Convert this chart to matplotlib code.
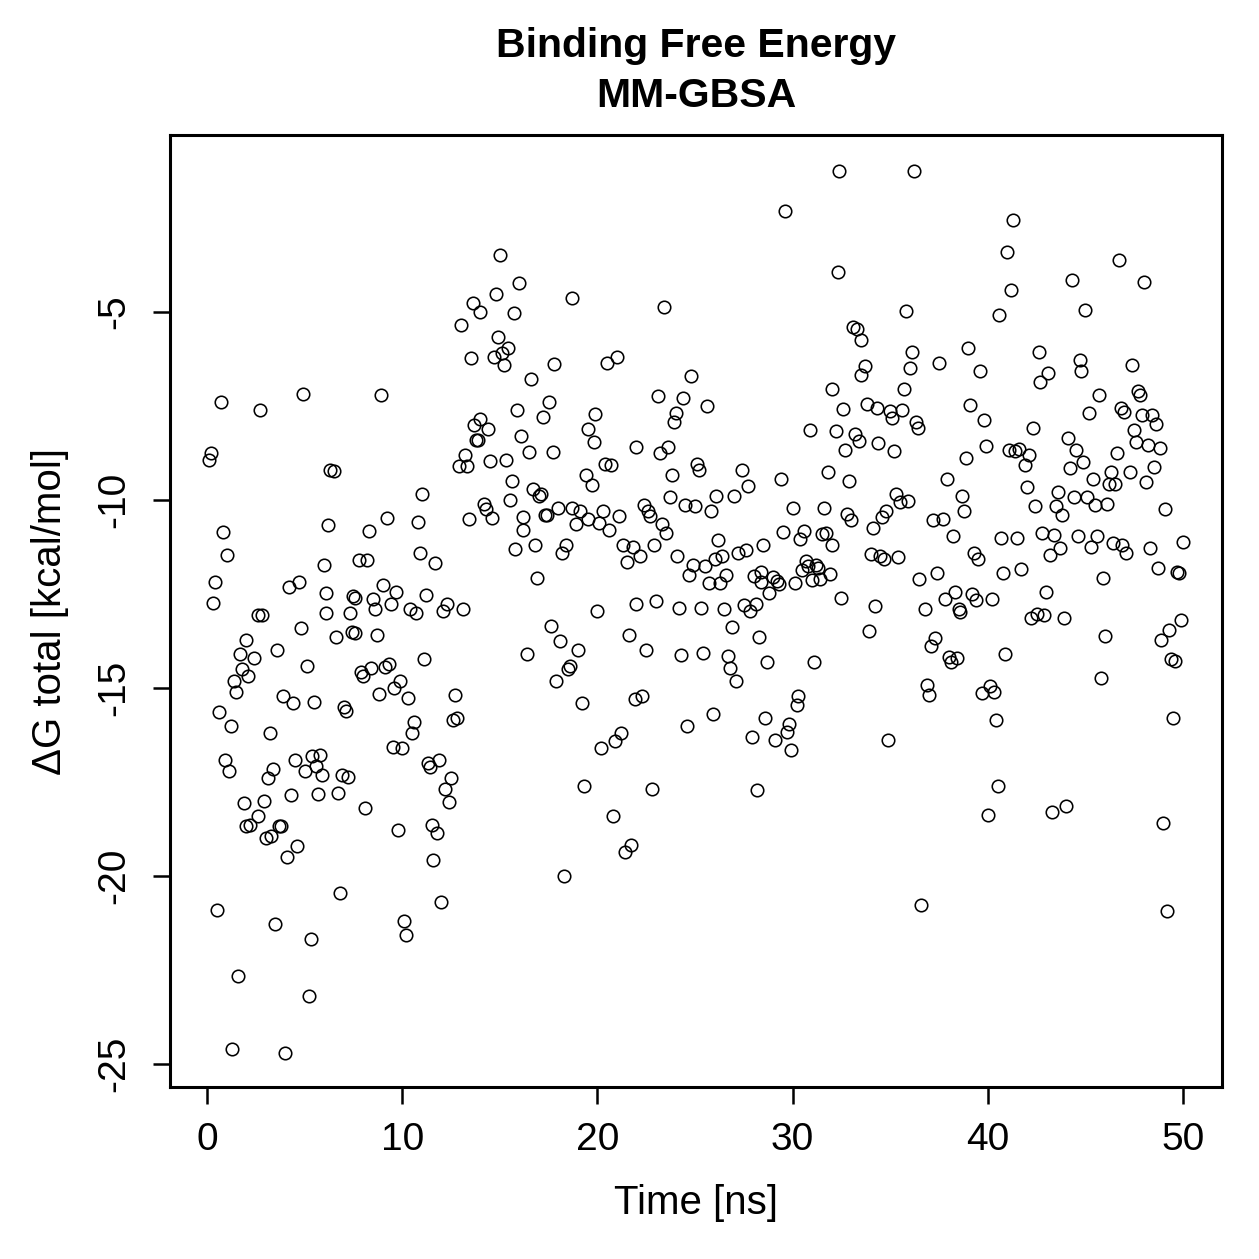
import matplotlib
matplotlib.use("Agg")
import matplotlib.pyplot as plt

plt.rcParams['font.family'] = ['Liberation Sans', 'DejaVu Sans']

title_lines = ["Binding Free Energy", "MM-GBSA"]
x_label = "Time [ns]"
y_label = "\u0394G total [kcal/mol]"
x_ticks = [0, 10, 20, 30, 40, 50]
y_ticks = [-25, -20, -15, -10, -5]

time_ns = [
 0.1,0.2,0.3,0.4,0.5,0.6,0.7,0.8,0.9,1.0,1.1,1.2,1.3,1.4,1.5,1.6,1.7,1.8,1.9,2.0,
 2.0,2.1,2.2,2.4,2.6,2.6,2.7,2.8,2.9,3.0,3.1,3.2,3.3,3.4,3.5,3.6,3.7,3.8,3.9,4.0,
 4.1,4.2,4.3,4.4,4.5,4.6,4.7,4.8,4.9,5.0,5.1,5.2,5.3,5.4,5.5,5.6,5.7,5.8,5.9,6.0,
 6.1,6.1,6.2,6.3,6.5,6.6,6.7,6.8,6.9,7.0,7.1,7.2,7.3,7.4,7.5,7.6,7.6,7.8,7.9,8.0,
 8.1,8.2,8.3,8.4,8.5,8.6,8.7,8.8,8.9,9.0,9.1,9.2,9.3,9.4,9.5,9.6,9.7,9.8,9.9,10.0,
 10.1,10.2,10.3,10.4,10.5,10.6,10.7,10.8,10.9,11.0,11.1,11.2,11.3,11.4,11.5,11.6,11.7,11.8,11.9,12.0,
 12.1,12.2,12.3,12.4,12.5,12.6,12.7,12.8,12.9,13.0,13.1,13.2,13.3,13.4,13.5,13.6,13.7,13.8,13.9,14.0,
 14.0,14.2,14.3,14.4,14.5,14.6,14.7,14.8,14.9,15.0,15.1,15.2,15.3,15.4,15.5,15.6,15.7,15.8,15.9,16.0,
 16.1,16.2,16.2,16.4,16.5,16.6,16.7,16.8,16.9,17.0,17.1,17.2,17.3,17.4,17.5,17.6,17.7,17.8,17.9,18.0,
 18.1,18.2,18.3,18.4,18.5,18.6,18.7,18.7,18.9,19.0,19.1,19.2,19.3,19.4,19.5,19.5,19.7,19.8,19.9,20.0,
 20.1,20.2,20.3,20.4,20.5,20.6,20.7,20.8,20.9,21.0,21.1,21.2,21.3,21.4,21.5,21.6,21.7,21.8,21.9,22.0,
 22.0,22.2,22.3,22.4,22.5,22.6,22.7,22.8,22.9,23.0,23.1,23.2,23.3,23.4,23.5,23.6,23.7,23.8,23.9,24.0,
 24.1,24.2,24.3,24.4,24.5,24.6,24.7,24.8,24.9,25.0,25.1,25.2,25.3,25.4,25.5,25.6,25.7,25.8,25.9,26.0,
 26.1,26.2,26.3,26.4,26.5,26.6,26.7,26.8,26.9,27.0,27.1,27.2,27.4,27.5,27.6,27.7,27.8,27.9,28.0,28.1,
 28.2,28.3,28.4,28.4,28.5,28.6,28.7,28.8,29.0,29.1,29.2,29.3,29.4,29.5,29.6,29.7,29.8,29.9,30.0,30.1,
 30.2,30.3,30.4,30.5,30.6,30.7,30.8,30.9,31.0,31.1,31.2,31.3,31.4,31.5,31.6,31.7,31.8,31.9,32.0,32.0,
 32.2,32.3,32.4,32.5,32.6,32.7,32.8,32.9,33.0,33.1,33.2,33.3,33.4,33.5,33.5,33.7,33.8,33.9,34.0,34.1,
 34.2,34.3,34.4,34.5,34.6,34.7,34.8,34.9,35.0,35.1,35.2,35.3,35.4,35.5,35.6,35.7,35.8,35.9,36.0,36.1,
 36.2,36.3,36.4,36.5,36.6,36.8,36.9,37.0,37.1,37.2,37.3,37.4,37.5,37.7,37.8,37.9,38.0,38.1,38.2,38.3,
 38.4,38.5,38.6,38.7,38.8,38.9,39.0,39.1,39.2,39.3,39.4,39.5,39.6,39.7,39.8,39.9,40.0,40.1,40.2,40.3,
 40.4,40.5,40.6,40.7,40.8,40.9,41.0,41.1,41.2,41.3,41.4,41.5,41.6,41.7,41.9,42.0,42.1,42.2,42.3,42.4,
 42.5,42.6,42.7,42.8,42.9,43.0,43.1,43.2,43.3,43.4,43.5,43.6,43.7,43.8,43.9,44.0,44.1,44.2,44.3,44.4,
 44.5,44.6,44.7,44.8,44.9,45.0,45.1,45.2,45.3,45.4,45.5,45.6,45.7,45.8,45.9,46.0,46.1,46.2,46.3,46.4,
 46.5,46.6,46.7,46.8,46.9,47.0,47.1,47.3,47.4,47.5,47.6,47.7,47.8,47.9,48.0,48.1,48.2,48.3,48.4,48.5,
 48.6,48.7,48.8,48.9,49.0,49.1,49.2,49.3,49.4,49.5,49.6,49.7,49.8,49.9,50.0,
]

delta_g = [
 -8.94,-8.75,-12.74,-12.18,-20.9,-15.64,-7.39,-10.85,-16.9,-11.46,-17.2,-16.0,-24.6,-14.8,-15.1,-22.66,-14.1,-14.5,-18.06,-18.67,
 -13.72,-14.68,-18.64,-14.2,-13.06,-18.4,-7.6,-13.06,-18.0,-19.0,-17.4,-16.2,-18.94,-17.15,-21.28,-14.0,-18.67,-18.67,-15.2,-24.7,
 -19.5,-12.3,-17.85,-15.4,-16.9,-19.2,-12.18,-13.4,-7.18,-17.2,-14.4,-23.2,-21.68,-16.8,-15.37,-17.07,-17.82,-16.78,-17.3,-11.73,
 -13.0,-12.47,-10.66,-9.2,-9.23,-13.64,-17.8,-20.45,-17.3,-15.5,-15.6,-17.37,-13.0,-13.5,-12.55,-13.54,-12.6,-11.6,-14.57,-14.68,
 -18.2,-11.6,-10.82,-14.47,-12.63,-12.9,-13.6,-15.16,-7.2,-12.26,-14.44,-10.48,-14.36,-12.77,-16.57,-15.0,-12.45,-18.78,-14.8,-16.6,
 -21.2,-21.57,-15.27,-12.9,-16.2,-15.9,-13.0,-10.58,-11.4,-9.84,-14.23,-12.53,-17.0,-17.1,-18.64,-19.57,-11.68,-18.86,-16.9,-20.7,
 -12.95,-17.69,-12.77,-18.03,-17.4,-15.85,-15.19,-15.8,-9.1,-5.35,-12.9,-8.8,-9.1,-10.5,-6.22,-4.76,-8.0,-8.4,-8.4,-5.0,
 -7.85,-10.1,-10.24,-8.1,-8.96,-10.48,-6.2,-4.52,-5.66,-3.48,-6.1,-6.41,-8.94,-5.96,-10.0,-9.5,-5.03,-11.3,-7.6,-4.23,
 -8.3,-10.8,-10.45,-14.1,-8.72,-6.78,-9.7,-11.2,-12.07,-9.9,-9.84,-7.8,-10.4,-10.4,-7.4,-13.35,-8.72,-6.38,-14.8,-10.2,
 -13.75,-11.4,-20.0,-11.2,-14.5,-14.4,-4.63,-10.2,-10.64,-14.0,-10.3,-15.4,-17.6,-9.34,-10.5,-8.1,-9.6,-8.45,-7.7,-12.95,
 -10.6,-16.6,-10.3,-9.04,-6.36,-10.8,-9.07,-18.4,-16.4,-6.2,-10.42,-16.2,-11.2,-19.36,-11.65,-13.6,-19.17,-11.25,-15.3,-12.77,
 -8.6,-11.5,-15.2,-10.13,-14.0,-10.3,-10.42,-17.69,-11.2,-12.69,-7.23,-8.75,-10.64,-4.87,-10.88,-8.6,-9.92,-9.34,-7.93,-7.69,
 -11.5,-12.87,-14.12,-7.29,-10.13,-16.0,-11.99,-6.7,-11.73,-10.16,-9.04,-9.2,-12.87,-14.07,-11.76,-7.5,-12.2,-10.3,-15.7,-11.57,
 -9.9,-11.06,-12.2,-11.5,-12.9,-11.99,-14.15,-14.47,-13.38,-9.9,-14.8,-11.4,-9.2,-12.8,-11.33,-9.63,-12.95,-16.3,-12.02,-12.77,
 -17.7,-13.64,-12.18,-11.9,-11.2,-15.8,-14.3,-12.47,-12.05,-16.38,-12.15,-12.23,-9.44,-10.85,-2.31,-16.17,-15.96,-16.65,-10.2,-12.2,
 -15.45,-15.2,-11.04,-11.86,-10.82,-11.62,-11.76,-8.14,-12.13,-14.31,-11.73,-11.8,-12.1,-10.9,-10.2,-10.88,-9.26,-11.97,-11.2,-7.05,
 -8.16,-3.94,-1.25,-12.6,-7.58,-8.67,-10.37,-9.5,-10.53,-5.4,-8.24,-5.45,-8.43,-6.68,-5.74,-6.44,-7.45,-13.48,-11.44,-10.75,
 -12.82,-7.55,-8.48,-11.5,-10.45,-11.57,-10.3,-16.38,-7.63,-7.82,-8.7,-9.84,-11.52,-10.05,-7.6,-7.05,-4.97,-10.03,-6.49,-6.06,
 -1.25,-7.93,-8.09,-12.1,-20.77,-12.9,-14.92,-15.19,-13.88,-10.53,-13.67,-11.94,-6.36,-10.5,-12.63,-9.44,-14.18,-14.31,-10.96,-12.45,
 -14.2,-12.9,-12.98,-9.9,-10.3,-8.88,-5.96,-7.47,-12.5,-11.4,-12.66,-11.57,-6.57,-15.13,-7.87,-8.56,-18.38,-14.95,-12.63,-15.1,
 -15.85,-17.6,-5.08,-11.0,-11.94,-14.1,-3.4,-8.67,-4.41,-2.55,-8.7,-11.0,-8.64,-11.84,-9.07,-9.65,-8.8,-13.14,-8.09,-10.16,
 -13.03,-6.06,-6.86,-10.88,-13.06,-12.45,-6.62,-11.46,-18.3,-10.93,-10.16,-9.79,-11.28,-10.4,-13.14,-18.14,-8.35,-9.15,-4.15,-9.92,
 -8.67,-10.96,-6.28,-6.57,-9.0,-4.95,-9.92,-7.69,-11.25,-9.44,-10.13,-10.96,-7.2,-14.73,-12.07,-13.62,-10.1,-9.57,-9.26,-11.15,
 -9.57,-8.75,-3.62,-7.55,-11.2,-7.66,-11.4,-9.26,-6.41,-8.14,-8.45,-7.1,-7.2,-7.74,-4.2,-9.52,-8.54,-11.28,-7.74,-9.12,
 -7.98,-11.81,-8.62,-13.72,-18.59,-10.24,-20.93,-13.46,-14.23,-15.8,-14.28,-11.91,-11.94,-13.19,-11.12,
]

W, H = 1259, 1259
fig = plt.figure(figsize=(W / 100, H / 100), dpi=100)
ax = fig.add_axes([170 / W, 1 - 1087 / H, (1222 - 170) / W, (1087 - 135) / H])

ax.plot(time_ns, delta_g, linestyle='none', marker='o', markersize=9,
        markerfacecolor='none', markeredgecolor='black', markeredgewidth=1.15)

ax.set_xlim(-1.9, 52.0)
ax.set_ylim(-25.61, -0.29)
ax.set_xticks(x_ticks)
ax.set_yticks(y_ticks)
ax.set_xticklabels([str(t) for t in x_ticks])
ax.set_yticklabels([str(t) for t in y_ticks], rotation=90, va='center')
ax.tick_params(axis='both', direction='out', length=12, width=1.8,
               labelsize=28, colors='black')
ax.tick_params(axis='x', pad=13)
ax.tick_params(axis='y', pad=15)
for s in ax.spines.values():
    s.set_linewidth(2.2)

fig.text(696 / W, 1 - 46 / H, title_lines[0], ha='center', va='center',
         fontsize=29.5, fontweight='bold')
fig.text(696 / W, 1 - 96 / H, title_lines[1], ha='center', va='center',
         fontsize=29.5, fontweight='bold')
fig.text(696 / W, 1 - 1203 / H, x_label, ha='center', va='center', fontsize=29)
fig.text(50 / W, 1 - 611 / H, y_label, ha='center', va='center', fontsize=29,
         rotation=90)

fig.savefig("out.png", dpi=100)
